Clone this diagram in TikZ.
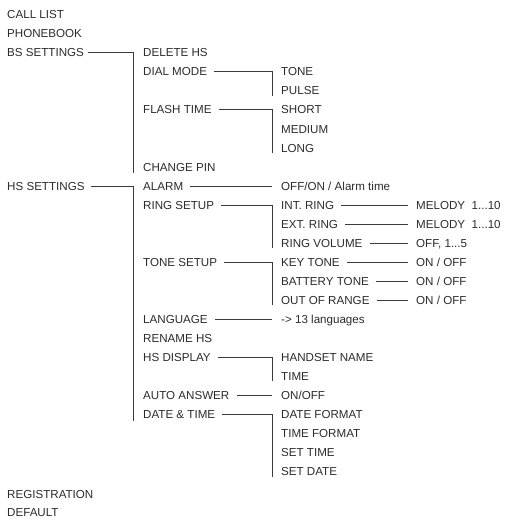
\documentclass[tikz,border=0pt]{standalone}
\usepackage{fontspec}
\setmainfont{Liberation Sans}
\definecolor{txt}{HTML}{2B2B2B}
\definecolor{ln}{HTML}{3A3A3A}
\begin{document}
\begin{tikzpicture}[x=1pt,y=-1pt,
  lbl/.style={anchor=west,inner sep=0pt,text height=8.4pt,text depth=0pt,
    font=\fontsize{11.6}{13}\selectfont,text=txt},
  conn/.style={draw=ln,line width=0.9pt}]
\useasboundingbox (0,0) rectangle (504,520);
% column 1
\node[lbl] (call) at (7,14.5) {CALL LIST};
\node[lbl] (phone) at (7,33.55) {PHONEBOOK};
\node[lbl] (bs) at (7,52.6) {BS SETTINGS};
\node[lbl] (hs) at (7,185.95) {HS SETTINGS};
\node[lbl] (reg) at (7,494) {REGISTRATION};
\node[lbl] (def) at (7,512) {DEFAULT};
% column 2
\node[lbl] (delhs) at (143,52.6) {DELETE HS};
\node[lbl] (dial) at (143,71.65) {DIAL MODE};
\node[lbl] (flash) at (143,109.75) {FLASH TIME};
\node[lbl] (chpin) at (143,166.9) {CHANGE PIN};
\node[lbl] (alarm) at (143,185.95) {ALARM};
\node[lbl] (ring) at (143,205.0) {RING SETUP};
\node[lbl] (tone) at (143,262.15) {TONE SETUP};
\node[lbl] (lang) at (143,319.3) {LANGUAGE};
\node[lbl] (ren) at (143,338.35) {RENAME HS};
\node[lbl] (disp) at (143,357.4) {HS DISPLAY};
\node[lbl] (auto) at (143,395.5) {AUTO ANSWER};
\node[lbl] (dt) at (143,414.55) {DATE \& TIME};
% column 3
\node[lbl] (ctone) at (281,71.65) {TONE};
\node[lbl] (pulse) at (281,90.7) {PULSE};
\node[lbl] (short) at (281,109.75) {SHORT};
\node[lbl] (medium) at (281,128.8) {MEDIUM};
\node[lbl] (long) at (281,147.85) {LONG};
\node[lbl] (offon) at (281,185.95) {OFF/ON / Alarm time};
\node[lbl] (intr) at (281,205.0) {INT. RING};
\node[lbl] (extr) at (281,224.05) {EXT. RING};
\node[lbl] (rvol) at (281,243.1) {RING VOLUME};
\node[lbl] (key) at (281,262.15) {KEY TONE};
\node[lbl] (batt) at (281,281.2) {BATTERY TONE};
\node[lbl] (oor) at (281,300.25) {OUT OF RANGE};
\node[lbl] (l13) at (281,319.3) {-> 13 languages};
\node[lbl] (hname) at (281,357.4) {HANDSET NAME};
\node[lbl] (htime) at (281,376.45) {TIME};
\node[lbl] (onoff) at (281,395.5) {ON/OFF};
\node[lbl] (dfmt) at (281,414.55) {DATE FORMAT};
\node[lbl] (tfmt) at (281,433.6) {TIME FORMAT};
\node[lbl] (stime) at (281,452.65) {SET TIME};
\node[lbl] (sdate) at (281,471.7) {SET DATE};
% column 4
\node[lbl] (mel1) at (416,205.0) {MELODY~~1...10};
\node[lbl] (mel2) at (416,224.05) {MELODY~~1...10};
\node[lbl] (vol) at (416,243.1) {OFF, 1...5};
\node[lbl] (k2) at (416,262.15) {ON / OFF};
\node[lbl] (b2) at (416,281.2) {ON / OFF};
\node[lbl] (o2) at (416,300.25) {ON / OFF};
% level 1 -> 2
\draw[conn] ([xshift=4pt]bs.east) -| ([xshift=-10pt,yshift=-6pt]chpin.west);
\draw[conn] ([xshift=6pt]hs.east) -| ([xshift=-10pt,yshift=-6pt]dt.west);
% level 2 -> 3
\draw[conn] ([xshift=7pt]dial.east) -| ([xshift=-9pt,yshift=-5pt]pulse.west);
\draw[conn] ([xshift=7pt]flash.east) -| ([xshift=-9pt,yshift=-5pt]long.west);
\draw[conn] ([xshift=7pt]alarm.east) -- ([xshift=-9pt]offon.west);
\draw[conn] ([xshift=7pt]ring.east) -| ([xshift=-9pt,yshift=-5pt]rvol.west);
\draw[conn] ([xshift=7pt]tone.east) -| ([xshift=-9pt,yshift=-5pt]oor.west);
\draw[conn] ([xshift=7pt]lang.east) -- ([xshift=-9pt]l13.west);
\draw[conn] ([xshift=7pt]disp.east) -| ([xshift=-9pt,yshift=-5pt]htime.west);
\draw[conn] ([xshift=7pt]auto.east) -- ([xshift=-9pt]onoff.west);
\draw[conn] ([xshift=7pt]dt.east) -| ([xshift=-9pt,yshift=-5pt]sdate.west);
% level 3 -> 4
\draw[conn] ([xshift=7pt]intr.east) -- ([xshift=-8pt]mel1.west);
\draw[conn] ([xshift=7pt]extr.east) -- ([xshift=-8pt]mel2.west);
\draw[conn] ([xshift=7pt]rvol.east) -- ([xshift=-8pt]vol.west);
\draw[conn] ([xshift=7pt]key.east) -- ([xshift=-8pt]k2.west);
\draw[conn] ([xshift=7pt]batt.east) -- ([xshift=-8pt]b2.west);
\draw[conn] ([xshift=7pt]oor.east) -- ([xshift=-8pt]o2.west);
\end{tikzpicture}
\end{document}
